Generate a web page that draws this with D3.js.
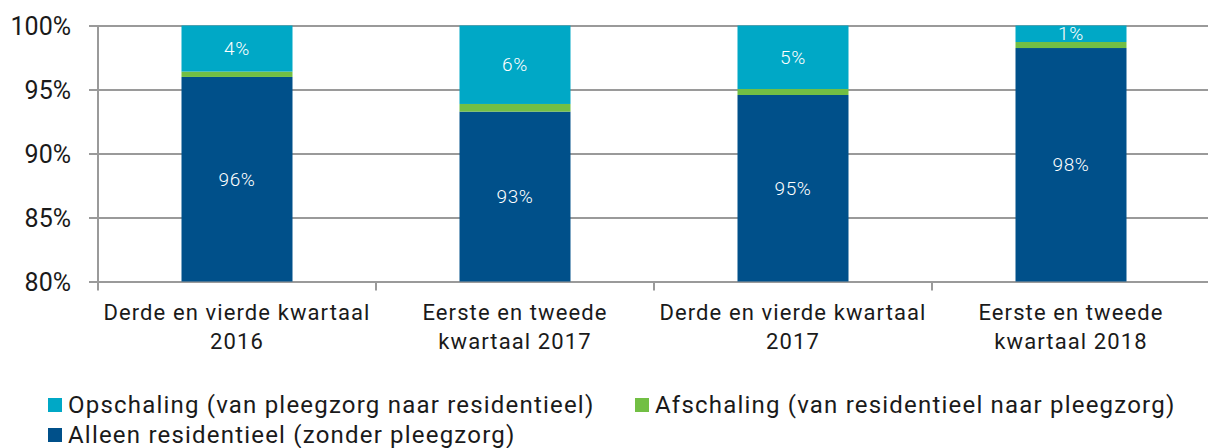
<!DOCTYPE html>
<html>
<head>
<meta charset="utf-8">
<script src="https://cdn.jsdelivr.net/npm/d3@7"></script>
<style>
  body { margin: 0; background: #fff; }
  svg text { font-family: Roboto, "DejaVu Sans", sans-serif; }
</style>
</head>
<body>
<div class="container"></div>
<script>
const categories = [
    ['Derde en vierde kwartaal', '2016'],
    ['Eerste en tweede', 'kwartaal 2017'],
    ['Derde en vierde kwartaal', '2017'],
    ['Eerste en tweede', 'kwartaal 2018']
]
const alleen = [95.98, 93.27, 94.57, 98.24]
const afschaling = [0.42, 0.6, 0.47, 0.47]
const opschaling = [3.6, 6.13, 4.96, 1.29]
const yTicks = [80, 85, 90, 95, 100]

const legendNames = [
    'Opschaling (van pleegzorg naar residentieel)',
    'Afschaling (van residentieel naar pleegzorg)',
    'Alleen residentieel (zonder pleegzorg)'
]

const colors = { alleen: '#00508a', afschaling: '#72bf44', opschaling: '#00a8c6' }

const W = 1208, H = 448
const margin = {top: 25, left: 98, right: 0, bottom: 167}

const svg = d3.select('.container')
    .append('svg')
    .attr('width', W)
    .attr('height', H)

const xScale = d3.scaleBand()
    .domain(d3.range(categories.length))
    .range([margin.left, margin.left + 278 * 4])
    .padding(0)

const yScale = d3.scaleLinear()
    .domain([80, 100])
    .range([H - margin.bottom + 0.5, margin.top + 0.5])

// gridlines
svg.append('g')
    .attr('transform', `translate(${margin.left - 9}, 0)`)
    .call(d3.axisRight(yScale).tickValues(yTicks).tickSize(W).tickFormat(''))
    .call(g => g.select('.domain').remove())
    .call(g => g.selectAll('line').attr('stroke', '#9a9a9a').attr('stroke-width', 2))

// y axis labels
svg.append('g')
    .attr('transform', `translate(${margin.left}, 0)`)
    .call(d3.axisLeft(yScale).tickValues(yTicks).tickSize(0).tickPadding(27).tickFormat(d => d + '%'))
    .call(g => g.select('.domain').remove())
    .call(g => g.selectAll('text').attr('font-size', 25).attr('fill', '#1a1a1a').attr('dy', '0.34em'))

// vertical axis line
svg.append('line')
    .attr('x1', margin.left).attr('x2', margin.left)
    .attr('y1', yScale(100)).attr('y2', yScale(80) + 9)
    .attr('stroke', '#9a9a9a').attr('stroke-width', 2)

// x ticks at band edges
svg.selectAll('.xtick')
    .data(d3.range(1, categories.length))
    .enter()
    .append('line')
    .attr('x1', d => xScale(d)).attr('x2', d => xScale(d))
    .attr('y1', yScale(80)).attr('y2', yScale(80) + 9)
    .attr('stroke', '#9a9a9a').attr('stroke-width', 2)

const bw = 111
const bars = svg.selectAll('.bar')
    .data(categories.map((c, i) => i))
    .enter()
    .append('g')
    .attr('transform', i => `translate(${xScale(i) + xScale.bandwidth() / 2 - bw / 2}, 0)`)

bars.append('rect')
    .attr('y', i => yScale(alleen[i]))
    .attr('height', i => yScale(80) - yScale(alleen[i]))
    .attr('width', bw)
    .attr('fill', colors.alleen)

bars.append('rect')
    .attr('y', i => yScale(alleen[i] + afschaling[i]))
    .attr('height', i => yScale(alleen[i]) - yScale(alleen[i] + afschaling[i]))
    .attr('width', bw)
    .attr('fill', colors.afschaling)

bars.append('rect')
    .attr('y', i => yScale(100))
    .attr('height', i => yScale(alleen[i] + afschaling[i]) - yScale(100))
    .attr('width', bw)
    .attr('fill', colors.opschaling)

bars.append('text')
    .attr('x', bw / 2)
    .attr('y', i => (yScale(alleen[i]) + yScale(80)) / 2)
    .attr('dy', '0.35em')
    .attr('text-anchor', 'middle')
    .attr('font-size', 19)
    .attr('font-weight', 300)
    .attr('letter-spacing', 0.6)
    .attr('fill', '#fff')
    .text(i => Math.round(alleen[i]) + '%')

bars.append('text')
    .attr('x', bw / 2)
    .attr('y', i => (yScale(alleen[i] + afschaling[i]) + yScale(100)) / 2)
    .attr('dy', '0.35em')
    .attr('text-anchor', 'middle')
    .attr('font-size', 19)
    .attr('font-weight', 300)
    .attr('letter-spacing', 0.6)
    .attr('fill', '#fff')
    .text(i => Math.round(opschaling[i]) + '%')

// category labels
const cat = svg.selectAll('.cat')
    .data(categories)
    .enter()
    .append('text')
    .attr('text-anchor', 'middle')
    .attr('font-size', 22)
    .attr('letter-spacing', 1.1)
    .attr('fill', '#1a1a1a')
cat.selectAll('tspan')
    .data((d, i) => d.map(t => ({t, i})))
    .enter()
    .append('tspan')
    .attr('x', d => xScale(d.i) + xScale.bandwidth() / 2)
    .attr('y', (d, j) => 320 + j * 29)
    .text(d => d.t)

// legend
const legendItems = [
    {name: legendNames[0], color: colors.opschaling, x: 48, y: 405},
    {name: legendNames[1], color: colors.afschaling, x: 635, y: 405},
    {name: legendNames[2], color: colors.alleen, x: 48, y: 435}
]
const lg = svg.selectAll('.legend')
    .data(legendItems)
    .enter()
    .append('g')
    .attr('transform', d => `translate(${d.x}, ${d.y})`)
lg.append('rect')
    .attr('x', 0).attr('y', -7)
    .attr('width', 14).attr('height', 14)
    .attr('fill', d => d.color)
lg.append('text')
    .attr('x', 20)
    .attr('y', 0)
    .attr('dy', '0.35em')
    .attr('font-size', 24)
    .attr('letter-spacing', 1.2)
    .attr('fill', '#1a1a1a')
    .text(d => d.name)
</script>
</body>
</html>
